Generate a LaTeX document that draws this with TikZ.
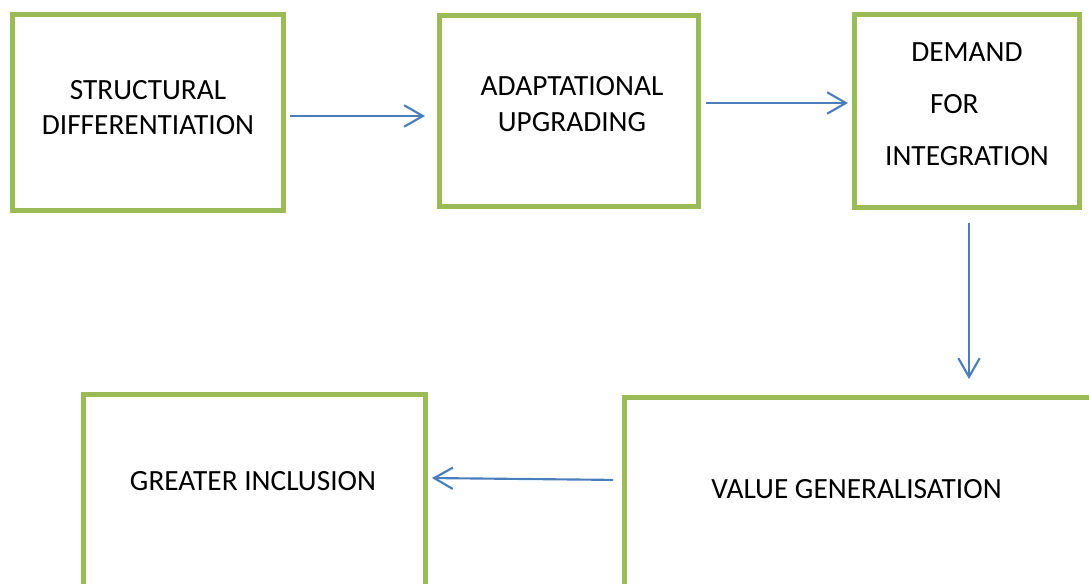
\documentclass[tikz,border=0pt]{standalone}
\usepackage{fontspec}
\setmainfont{Carlito}
\usepackage{tikz}
\usetikzlibrary{arrows.meta}
\definecolor{boxgreen}{HTML}{9BBB59}
\definecolor{arrowblue}{HTML}{4A7EBB}
\tikzset{
  stage/.style={draw=boxgreen, line width=3.75pt, inner sep=0pt},
  flow/.style={draw=arrowblue, line width=1.6pt, -{Straight Barb[length=14pt,width=16pt]}}
}

\begin{document}
\begin{tikzpicture}[x=0.75pt, y=-0.75pt, font=\fontsize{22}{26.5}\selectfont]
            \useasboundingbox (0,0) rectangle (1089,584);

            \node[stage, minimum width=203.25pt, minimum height=147pt] (SD) at (148,112.5) {};
            \node[stage, minimum width=194.25pt, minimum height=143.25pt] (AU) at (569,111) {};
            \node[stage, minimum width=168.75pt, minimum height=144.75pt] (DI) at (967,111) {};
            \node[stage, minimum width=371.625pt, minimum height=166.875pt] (VG) at (872.25,508.75) {};
            \node[stage, minimum width=256.5pt, minimum height=169.125pt] (GI) at (254.5,507.25) {};

            \node[align=center] (L_SD) at (148,107.5) {STRUCTURAL\\DIFFERENTIATION};
            \node[align=center] (L_AU) at (572,104) {ADAPTATIONAL\\UPGRADING};
            \node[align=center, font=\fontsize{22}{39}\selectfont] (L_DI) at (967,104) {DEMAND\\FOR\rule{19pt}{0pt}\\INTEGRATION};
            \node (L_VG) at (856.5,489) {VALUE GENERALISATION};
            \node (L_GI) at (253,481.5) {GREATER INCLUSION};

            \draw[flow, shorten <=3pt, shorten >=9pt] (SD.east |- 0,116) -- (AU.west |- 0,116);
            \draw[flow, shorten <=3.75pt, shorten >=3pt] (AU.east |- 0,103) -- (DI.west |- 0,103);
            \draw[flow, shorten <=9.75pt, shorten >=12pt] (DI.south -| 969,0) -- (VG.north -| 969,0);
            \draw[flow, shorten <=6.75pt, shorten >=3pt] (VG.west |- 0,480) -- (GI.east |- 0,478);
        \end{tikzpicture}
\end{document}
